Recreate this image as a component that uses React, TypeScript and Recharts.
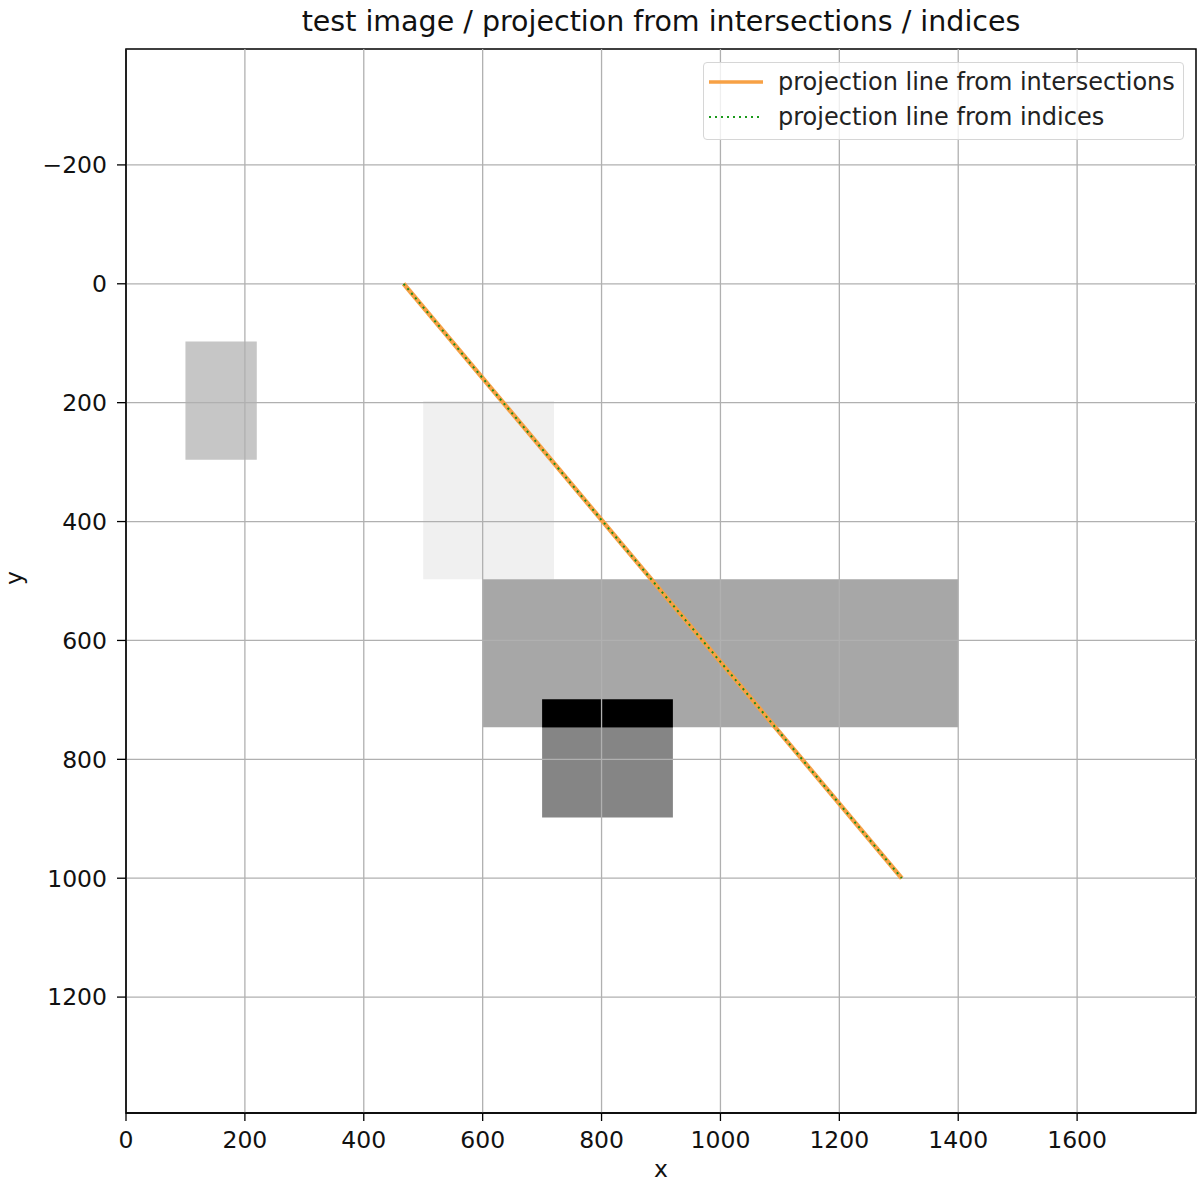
import React from "react";
import {
  ComposedChart,
  Line,
  XAxis,
  YAxis,
  ReferenceArea,
  ReferenceLine,
} from "recharts";

document.body.style.margin = "0";

const FONT = "'DejaVu Sans', sans-serif";
const TICK_FONT = 23.5;

const xTicks = [0, 200, 400, 600, 800, 1000, 1200, 1400, 1600];
const yTicks = [-200, 0, 200, 400, 600, 800, 1000, 1200];
const xDomain = [0, 1800];
const yDomain = [-395, 1395];

// grey patches of the test image (drawn in this order)
const patchX1 = [100, 500, 600, 700, 700];
const patchX2 = [220, 720, 1400, 920, 920];
const patchY1 = [97, 197, 497, 699, 747];
const patchY2 = [296, 497, 746, 747, 898];
const patchShade = ["#c6c6c6", "#f0f0f0", "#a7a7a7", "#000000", "#858585"];

// projection lines
const intersectionX = [467, 1305];
const intersectionY = [0, 1000];
const indexX = [467, 1305];
const indexY = [0, 1000];

const intersectionPoints = intersectionX.map((x, i) => ({ x, y: intersectionY[i] }));
const indexPoints = indexX.map((x, i) => ({ x, y: indexY[i] }));

const fmt = (v: number) => (v < 0 ? `\u2212${Math.abs(v)}` : `${v}`);

function Legend() {
  return (
    <div
      style={{
        position: "absolute",
        left: 703,
        top: 62,
        width: 481,
        height: 78,
        border: "1px solid #d6d6d6",
        borderRadius: 4,
        background: "rgba(255,255,255,0.8)",
        fontFamily: FONT,
        fontSize: 24,
        color: "#222",
        boxSizing: "border-box",
      }}
    >
      <div style={{ position: "absolute", left: 4, top: 5, display: "flex", alignItems: "center" }}>
        <svg width={55} height={28}>
          <line x1={1} y1={14} x2={55} y2={14} stroke="#f7a145" strokeWidth={3.5} />
        </svg>
        <span style={{ marginLeft: 15 }}>projection line from intersections</span>
      </div>
      <div style={{ position: "absolute", left: 4, top: 40, display: "flex", alignItems: "center" }}>
        <svg width={55} height={28}>
          <line x1={1} y1={14} x2={55} y2={14} stroke="#1a9a1a" strokeWidth={2} strokeDasharray="2 4" />
        </svg>
        <span style={{ marginLeft: 15 }}>projection line from indices</span>
      </div>
    </div>
  );
}

export default function App() {
  return (
    <div style={{ position: "relative", width: 1198, height: 1184, background: "#fff", overflow: "hidden" }}>
      <div
        style={{
          position: "absolute",
          left: 126,
          width: 1070,
          top: 5,
          textAlign: "center",
          fontFamily: FONT,
          fontSize: 28.5,
          color: "#111",
        }}
      >
        test image / projection from intersections / indices
      </div>
      <div
        style={{
          position: "absolute",
          left: 126,
          width: 1070,
          top: 1155,
          textAlign: "center",
          fontFamily: FONT,
          fontSize: TICK_FONT,
          color: "#111",
        }}
      >
        x
      </div>
      <div
        style={{
          position: "absolute",
          left: 7,
          top: 564,
          transform: "rotate(-90deg)",
          fontFamily: FONT,
          fontSize: TICK_FONT,
          color: "#111",
        }}
      >
        y
      </div>
      <ComposedChart
        width={1198}
        height={1184}
        margin={{ top: 49, right: 2, bottom: 0, left: 0 }}
        style={{ position: "absolute", left: 0, top: 0 }}
      >
        <XAxis
          dataKey="x"
          type="number"
          domain={xDomain}
          ticks={xTicks}
          allowDataOverflow
          height={71}
          tickSize={8}
          tickMargin={10}
          tickFormatter={fmt}
          axisLine={{ stroke: "#000", strokeWidth: 1.5 }}
          tickLine={{ stroke: "#000", strokeWidth: 1.3 }}
          tick={{ fontSize: TICK_FONT, fill: "#111", fontFamily: FONT }}
        />
        <YAxis
          type="number"
          domain={yDomain}
          ticks={yTicks}
          reversed
          allowDataOverflow
          width={126}
          tickSize={9}
          tickMargin={10}
          tickFormatter={fmt}
          axisLine={{ stroke: "#000", strokeWidth: 1.5 }}
          tickLine={{ stroke: "#000", strokeWidth: 1.3 }}
          tick={{ fontSize: TICK_FONT, fill: "#111", fontFamily: FONT }}
        />
        {patchShade.map((c, i) => (
          <ReferenceArea
            key={`p${i}`}
            x1={patchX1[i]}
            x2={patchX2[i]}
            y1={patchY1[i]}
            y2={patchY2[i]}
            fill={c}
            fillOpacity={1}
            stroke="none"
          />
        ))}
        {xTicks.map((t) => (
          <ReferenceLine key={`gx${t}`} x={t} stroke="#b0b0b0" strokeWidth={1.3} />
        ))}
        {yTicks.map((t) => (
          <ReferenceLine key={`gy${t}`} y={t} stroke="#b0b0b0" strokeWidth={1.3} />
        ))}
        <ReferenceArea
          x1={xDomain[0]}
          x2={xDomain[1]}
          y1={yDomain[0]}
          y2={yDomain[1]}
          fill="none"
          stroke="#000"
          strokeWidth={1.5}
        />
        <Line
          data={intersectionPoints}
          dataKey="y"
          type="linear"
          stroke="#f7a145"
          strokeWidth={4.5}
          dot={false}
          isAnimationActive={false}
        />
        <Line
          data={indexPoints}
          dataKey="y"
          type="linear"
          stroke="#1a8a1a"
          strokeWidth={2}
          strokeDasharray="2 4"
          dot={false}
          isAnimationActive={false}
        />
      </ComposedChart>
      <Legend />
    </div>
  );
}
